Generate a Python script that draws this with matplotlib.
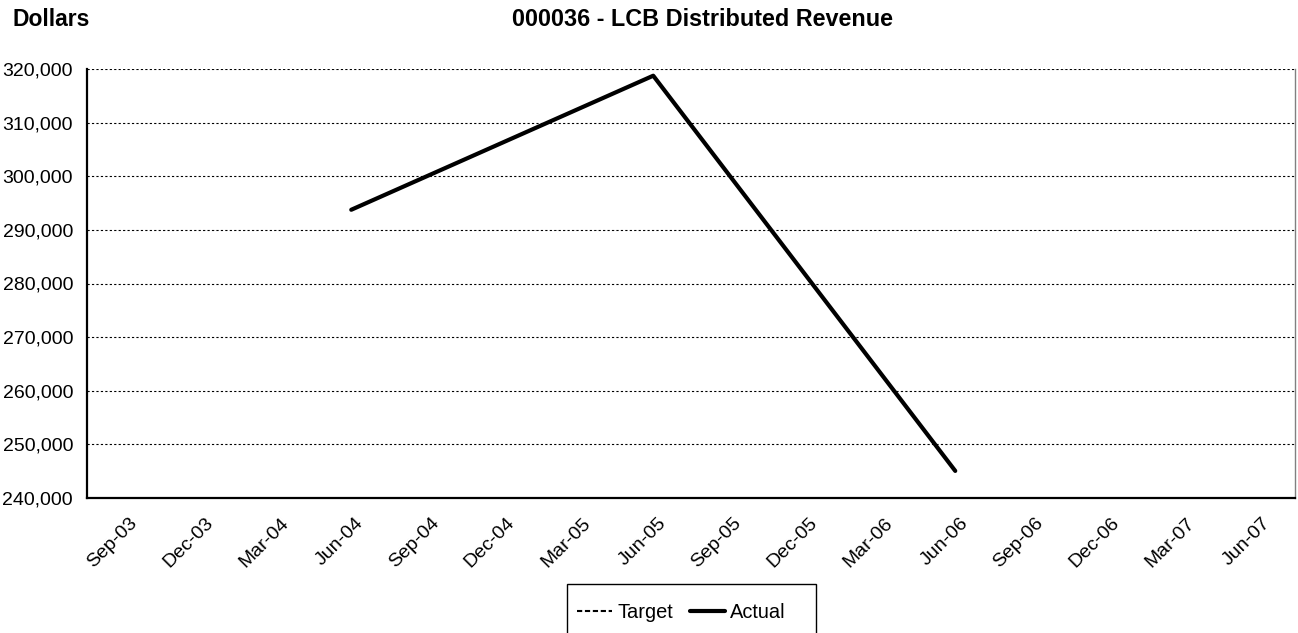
import matplotlib
matplotlib.use("Agg")
import matplotlib.pyplot as plt
import matplotlib.transforms as mtransforms
from matplotlib.patches import Rectangle
from matplotlib.ticker import FuncFormatter

plt.rcParams['font.family'] = ['Liberation Sans', 'DejaVu Sans']

# quarterly categories
quarters = ["Sep-03", "Dec-03", "Mar-04", "Jun-04", "Sep-04", "Dec-04", "Mar-05", "Jun-05",
            "Sep-05", "Dec-05", "Mar-06", "Jun-06", "Sep-06", "Dec-06", "Mar-07", "Jun-07"]
nan = float("nan")
target = [nan] * 16
actual = [nan, nan, nan, 293750, nan, nan, nan, 318750,
          nan, nan, nan, 245050, nan, nan, nan, nan]

# actual is plotted only where a value exists (line connects the points)
act_x = [i for i, v in enumerate(actual) if v == v]
act_y = [actual[i] for i in act_x]

W, H = 1298, 633
fig = plt.figure(figsize=(W / 100, H / 100), dpi=100)
ax = fig.add_axes([87 / W, 1 - 498 / H, (1295 - 87) / W, (498 - 69) / H])

ax.plot(range(len(quarters)), target, color="black", lw=1.5, ls=(0, (2.5, 1.3)), label="Target")
ax.plot(act_x, act_y, color="black", lw=3, solid_capstyle="round", label="Actual")

ax.set_xlim(-0.5, len(quarters) - 0.5)
ax.set_ylim(240000, 320000)
ax.set_yticks(range(240000, 320001, 10000))
ax.yaxis.set_major_formatter(FuncFormatter(lambda v, p: f"{int(v):,}"))
ax.set_xticks(range(len(quarters)))
ax.set_xticklabels(quarters, rotation=45, ha="right", va="top", rotation_mode="anchor")
ax.tick_params(axis="both", length=0, labelsize=14)
ax.tick_params(axis="x", pad=12)
ax.tick_params(axis="y", pad=10)
shift = mtransforms.ScaledTranslation(4 / 100, 0, fig.dpi_scale_trans)
for lbl in ax.get_xticklabels():
    lbl.set_transform(lbl.get_transform() + shift)

ax.grid(axis="y", color="black", ls=(0, (2, 2)), lw=0.8)
ax.set_axisbelow(True)
ax.spines["top"].set_visible(False)
ax.spines["right"].set_color("#808080")
ax.spines["right"].set_linewidth(1)
ax.spines["left"].set_linewidth(1.6)
ax.spines["bottom"].set_linewidth(1.6)

fig.text(12 / W, 1 - 20 / H, "Dollars", fontsize=16.5, fontweight="bold", va="center", ha="left")
fig.text(703 / W, 1 - 20 / H, "000036 - LCB Distributed Revenue", fontsize=16.8,
         fontweight="bold", va="center", ha="center")

# legend box runs off the bottom edge
fig.patches.append(Rectangle((567 / W, -0.1), (816 - 567) / W, (633 - 584) / H + 0.1,
                             transform=fig.transFigure, fill=False, edgecolor="black", lw=1))
fig.legend(loc="center left", bbox_to_anchor=(577 / W, 1 - 612 / H), ncol=2,
           frameon=False, fontsize=14.4, borderpad=0, borderaxespad=0,
           handlelength=1.75, handletextpad=0.25, columnspacing=0.85)

fig.savefig("out.png", dpi=100)
